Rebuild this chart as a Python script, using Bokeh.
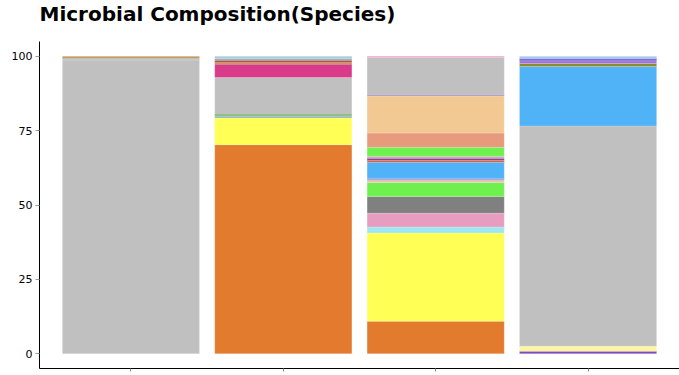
from bokeh.plotting import figure
from bokeh.models import ColumnDataSource, FixedTicker, Range1d, Title
from bokeh.embed import file_html
from bokeh.resources import INLINE

samples = ["S1", "S2", "S3", "S4"]
sample_pos = [1, 2, 3, 4]
y_ticks = [0, 25, 50, 75, 100]

# segment abundances (%) per sample, stacked bottom to top
s1_values = [98.8, 0.4, 0.8]
s1_colors = ["#c0c0c0", "#a8c4d4", "#c39a68"]

s2_values = [70.3, 9.0, 0.6, 0.4, 0.2, 12.4, 4.4, 0.2, 0.4, 0.6, 0.3, 0.4, 0.8]
s2_colors = ["#e37b2f", "#ffff55", "#8fb5bd", "#5ad030", "#404040", "#c0c0c0",
             "#d93a8a", "#8b1a1a", "#c86420", "#d03030", "#3a8a8a", "#90a890", "#a8c8dc"]

s3_values = [10.9, 29.7, 2.0, 4.6, 5.7, 4.7, 0.9, 0.3, 5.6, 0.6, 0.7, 0.7, 3.0,
             4.8, 12.5, 0.3, 12.6, 0.4]
s3_colors = ["#e37b2f", "#ffff55", "#9be8f2", "#e89cc0", "#808080", "#6ff04e",
             "#e8c0b0", "#8060c0", "#50b3f7", "#e05a20", "#8a3a9a", "#c8a8b0",
             "#6ff04e", "#e89a7c", "#f2c993", "#a080c0", "#c0c0c0", "#e890c0"]

s4_values = [0.8, 1.7, 74.1, 20.0, 1.0, 0.9, 0.4, 0.4, 0.7]
s4_colors = ["#7b4dc0", "#fff59d", "#c0c0c0", "#50b3f7", "#8c8c2a", "#9b6fe0",
             "#7040c0", "#2030c0", "#a8c8e8"]

all_values = [s1_values, s2_values, s3_values, s4_values]
all_colors = [s1_colors, s2_colors, s3_colors, s4_colors]

xs, bottoms, tops, colors = [], [], [], []
for pos, vals, cols in zip(sample_pos, all_values, all_colors):
    cum = 0.0
    for v, c in zip(vals, cols):
        xs.append(pos)
        bottoms.append(cum)
        cum += v
        tops.append(cum)
        colors.append(c)

src = ColumnDataSource(dict(x=xs, bottom=bottoms, top=tops, color=colors))

p = figure(width=679, height=375, output_backend="svg", toolbar_location=None,
           x_range=Range1d(0.4, 4.6), y_range=Range1d(-5, 105),
           min_border_left=39, min_border_right=0, min_border_top=41,
           min_border_bottom=7, title="Microbial Composition(Species)")

p.vbar(x="x", bottom="bottom", top="top", width=0.9, fill_color="color",
       line_color="white", line_alpha=0.35, line_width=0.5, source=src)

p.title.text_font = "DejaVu Sans"
p.title.text_font_style = "bold"
p.title.text_font_size = "20px"
p.title.text_color = "black"
p.title.standoff = 0
p.title.vertical_align = "top"

# spacer between title and plot frame
p.add_layout(Title(text=" ", text_font_size="1px", standoff=11), "above")

p.outline_line_color = None
p.grid.visible = False
p.background_fill_color = "white"
p.border_fill_color = "white"

p.yaxis.ticker = FixedTicker(ticks=y_ticks)
p.yaxis.minor_tick_line_color = None
p.yaxis.major_tick_out = 4
p.yaxis.major_tick_in = 0
p.yaxis.major_tick_line_color = "#999999"
p.yaxis.axis_line_color = "black"
p.yaxis.major_label_text_font = "DejaVu Sans"
p.yaxis.major_label_text_font_size = "11px"
p.yaxis.major_label_text_color = "black"
p.yaxis.major_label_standoff = 3

p.xaxis.ticker = FixedTicker(ticks=sample_pos)
p.xaxis.major_label_overrides = {pos: "" for pos in sample_pos}
p.xaxis.major_label_text_font_size = "0px"
p.xaxis.major_label_standoff = 0
p.xaxis.minor_tick_line_color = None
p.xaxis.major_tick_out = 3
p.xaxis.major_tick_in = 0
p.xaxis.major_tick_line_color = "#888888"
p.xaxis.axis_line_color = "black"

open("out.html", "w").write(file_html(p, INLINE))
